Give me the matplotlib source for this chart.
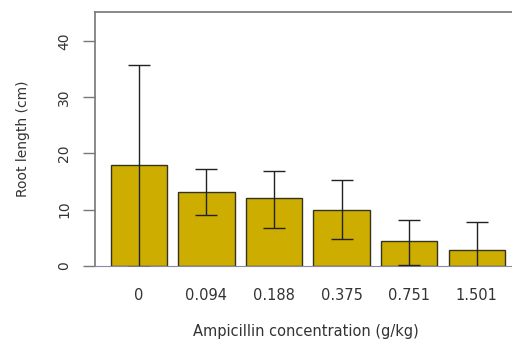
import matplotlib
matplotlib.use("Agg")
import matplotlib.pyplot as plt
import numpy as np

plt.rcParams['font.family'] = ['DejaVu Sans']

categories = ["0", "0.094", "0.188", "0.375", "0.751", "1.501"]
means = [17.9, 13.2, 12.0, 10.0, 4.4, 2.8]
err_upper = [35.7, 17.2, 16.9, 15.2, 8.1, 7.7]
err_lower = [-0.3, 9.0, 6.8, 4.8, 0.2, -2.1]
yticks = [0, 10, 20, 30, 40]

fig = plt.figure(figsize=(5.12, 3.41), dpi=100)
W, H = 512, 341
# axes: left 95px, top 12px, bottom 265.7px, right ~520px (cut off)
ax = fig.add_axes([95 / W, (H - 265.7) / H, (520.7 - 95) / W, (265.7 - 12) / H])

x = 0.7 + 1.2 * np.arange(len(categories))
ax.bar(x, means, width=1.0, color="#CDAD00", edgecolor="#333322", linewidth=1.0, zorder=2)
m = np.array(means)
lo = m - np.array(err_lower)
hi = np.array(err_upper) - m
ax.errorbar(x, means, yerr=[lo, hi], fmt="none", ecolor="#222222", elinewidth=1.0,
            capsize=8, capthick=1.0, zorder=3)

ax.set_xlim(-0.08, 7.48)
ax.set_ylim(0, 45.2)
ax.set_xticks(x)
ax.set_xticklabels(categories, fontsize=10.5, color="#333333")
ax.tick_params(axis="x", length=0, pad=16)
ax.set_yticks(yticks)
ax.set_yticklabels([str(t) for t in yticks], fontsize=10, color="#333333",
                   rotation=90, va="center")
ax.tick_params(axis="y", length=9, width=1.0, color="#777777", pad=8)
for s in ax.spines.values():
    s.set_color("#777777")
    s.set_linewidth(1.2)
ax.spines["bottom"].set_color("#8888aa")
ax.spines["bottom"].set_linewidth(0.8)

fig.text(195 / W + (416.7 - 195) / 2 / W, 1 - 331.7 / H, "Ampicillin concentration (g/kg)",
         ha="center", va="center", fontsize=10.5, color="#333333")
fig.text(23 / W, 1 - 139 / H, "Root length (cm)", ha="center", va="center",
         rotation=90, fontsize=10, color="#333333")

fig.savefig("out.png", dpi=100)
